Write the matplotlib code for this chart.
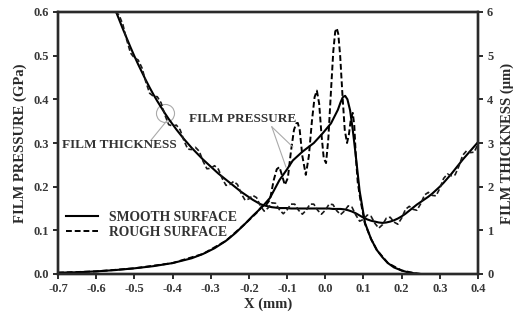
import matplotlib

matplotlib.use("Agg")
import matplotlib.pyplot as plt  # noqa: E402

plt.rcParams.update({
    "font.family": "Liberation Serif",
    "font.weight": "bold",
    "font.size": 9,
    "axes.unicode_minus": False,
})

# film pressure (GPa), smooth surface
p_smooth_x = [-0.70, -0.65, -0.60, -0.55, -0.50, -0.45, -0.40, -0.35, -0.32, -0.29,
              -0.26, -0.235, -0.21, -0.19, -0.166, -0.145, -0.12, -0.10, -0.085, -0.06,
              -0.03, -0.006, 0.015, 0.033, 0.040, 0.046, 0.052, 0.058, 0.065, 0.072,
              0.080, 0.090, 0.104, 0.12, 0.135, 0.15, 0.164, 0.18, 0.20, 0.22, 0.24, 0.25]
p_smooth = [0.003, 0.004, 0.006, 0.009, 0.013, 0.018, 0.025, 0.036, 0.046, 0.059,
            0.076, 0.094, 0.115, 0.133, 0.153, 0.174, 0.215, 0.240, 0.260, 0.280,
            0.300, 0.323, 0.345, 0.376, 0.393, 0.405, 0.408, 0.400, 0.375, 0.330,
            0.270, 0.190, 0.117, 0.080, 0.055, 0.038, 0.025, 0.015, 0.008, 0.003, 0.001, 0.0]

# film pressure (GPa), rough surface
p_rough_x = [-0.70, -0.60, -0.50, -0.40, -0.32, -0.26, -0.21, -0.18, -0.166, -0.155,
             -0.145, -0.135, -0.127, -0.12, -0.113, -0.106, -0.098, -0.09, -0.082, -0.076,
             -0.072, -0.067, -0.06, -0.051, -0.043, -0.035, -0.028, -0.022, -0.016, -0.01,
             -0.004, 0.002, 0.008, 0.015, 0.021, 0.026, 0.030, 0.034, 0.039, 0.045,
             0.051, 0.057, 0.062, 0.067, 0.072, 0.076, 0.080, 0.085, 0.092, 0.104,
             0.12, 0.135, 0.164, 0.20, 0.24, 0.25]
p_rough = [0.003, 0.006, 0.013, 0.025, 0.046, 0.076, 0.115, 0.140, 0.155, 0.158,
           0.170, 0.215, 0.240, 0.245, 0.225, 0.204, 0.220, 0.280, 0.330, 0.345,
           0.346, 0.330, 0.270, 0.227, 0.270, 0.350, 0.405, 0.420, 0.390, 0.320,
           0.265, 0.254, 0.310, 0.420, 0.510, 0.555, 0.563, 0.550, 0.500, 0.410,
           0.330, 0.300, 0.320, 0.355, 0.369, 0.340, 0.270, 0.210, 0.170, 0.115,
           0.080, 0.055, 0.025, 0.008, 0.001, 0.0]

# film thickness (um) at x = -0.55 ... 0.40, step 0.01
h_x = [round(-0.55 + 0.01 * i, 2) for i in range(96)]
h_smooth = [6.05, 5.83, 5.61, 5.40, 5.19, 4.99, 4.80, 4.62, 4.44, 4.27,
            4.11, 3.96, 3.82, 3.68, 3.55, 3.43, 3.31, 3.20, 3.09, 2.99,
            2.89, 2.80, 2.71, 2.62, 2.54, 2.46, 2.38, 2.30, 2.23, 2.16,
            2.09, 2.02, 1.95, 1.88, 1.82, 1.76, 1.70, 1.65, 1.60, 1.57,
            1.55, 1.53, 1.52, 1.51, 1.51, 1.51, 1.50, 1.50, 1.50, 1.50,
            1.50, 1.50, 1.50, 1.50, 1.50, 1.50, 1.50, 1.49, 1.49, 1.49,
            1.48, 1.46, 1.43, 1.39, 1.34, 1.29, 1.25, 1.22, 1.20, 1.18,
            1.17, 1.18, 1.20, 1.23, 1.27, 1.32, 1.38, 1.45, 1.52, 1.59,
            1.65, 1.71, 1.77, 1.84, 1.92, 2.00, 2.09, 2.19, 2.29, 2.40,
            2.51, 2.62, 2.72, 2.82, 2.92, 3.02]
h_rough = [6.01, 5.93, 5.71, 5.36, 5.06, 4.95, 4.90, 4.72, 4.40, 4.14,
           4.07, 4.06, 3.92, 3.64, 3.42, 3.39, 3.41, 3.30, 3.05, 2.86,
           2.85, 2.90, 2.81, 2.58, 2.41, 2.42, 2.48, 2.40, 2.19, 2.03,
           2.05, 2.12, 2.05, 1.84, 1.69, 1.72, 1.80, 1.75, 1.56, 1.44,
           1.51, 1.63, 1.62, 1.47, 1.38, 1.47, 1.60, 1.60, 1.46, 1.37,
           1.46, 1.60, 1.60, 1.46, 1.37, 1.46, 1.60, 1.59, 1.45, 1.36,
           1.44, 1.56, 1.53, 1.35, 1.21, 1.25, 1.35, 1.32, 1.16, 1.05,
           1.13, 1.28, 1.30, 1.19, 1.14, 1.28, 1.48, 1.55, 1.48, 1.46,
           1.61, 1.81, 1.87, 1.80, 1.79, 1.96, 2.19, 2.29, 2.25, 2.27,
           2.47, 2.72, 2.82, 2.78, 2.79, 2.98]

x_ticks = [-0.7, -0.6, -0.5, -0.4, -0.3, -0.2, -0.1, 0.0, 0.1, 0.2, 0.3, 0.4]
p_ticks = [0.0, 0.1, 0.2, 0.3, 0.4, 0.5, 0.6]
h_ticks = [0, 1, 2, 3, 4, 5, 6]

DASH = (0, (3.0, 1.5))
INK = "#2a2a2a"

fig = plt.figure(figsize=(5.19, 3.22), dpi=100)
ax = fig.add_axes([58 / 519, 1 - 274 / 322, 420 / 519, 262 / 322])
ax2 = ax.twinx()

l_smooth, = ax.plot(p_smooth_x, p_smooth, color="black", lw=1.5)
l_rough, = ax.plot(p_rough_x, p_rough, color="black", lw=1.4, linestyle=DASH)
ax2.plot(h_x, h_smooth, color="black", lw=1.5)
ax2.plot(h_x, h_rough, color="#1a1a1a", lw=1.2, linestyle=DASH)

ax.set_xlim(-0.7, 0.4)
ax.set_ylim(0, 0.6)
ax2.set_ylim(0, 6)
ax.set_xticks(x_ticks)
ax.set_xticklabels([f"{v:.1f}" for v in x_ticks], fontweight="bold")
ax.set_yticks(p_ticks)
ax.set_yticklabels([f"{v:.1f}" for v in p_ticks], fontweight="bold")
ax2.set_yticks(h_ticks)
ax2.set_yticklabels([str(v) for v in h_ticks], fontweight="bold")

for a in (ax, ax2):
    a.tick_params(direction="out", length=3.5, width=1.4, color=INK,
                  labelsize=9, labelcolor="#383838", pad=3)
    for s in a.spines.values():
        s.set_linewidth(1.7)
        s.set_color(INK)

ax.set_xlabel("X (mm)", fontsize=10.5, fontweight="bold", color=INK, labelpad=2)
ax.set_ylabel("FILM PRESSURE (GPa)", fontsize=10.5, fontweight="bold",
              color=INK, labelpad=5)
ax2.set_ylabel("FILM THICKNESS (\u00b5m)", fontsize=10.5, fontweight="bold",
               color=INK, labelpad=5)

# annotations
ax.text(-0.689, 0.295, "FILM THICKNESS", fontsize=9.5, fontweight="bold",
        color="#333333", ha="left", va="center")
ax.plot([-0.456, -0.414], [0.307, 0.352], color="#aaaaaa", lw=0.8)
ax.plot([-0.42], [0.369], marker="o", ms=13, mfc="none", mec="#aaaaaa", mew=0.8)

ax.text(-0.357, 0.355, "FILM PRESSURE", fontsize=9.5, fontweight="bold",
        color="#333333", ha="left", va="center")
ax.plot([-0.140, -0.085], [0.337, 0.291], color="#aaaaaa", lw=0.8)
ax.plot([-0.140, -0.103], [0.337, 0.245], color="#aaaaaa", lw=0.8)

ax.legend([l_smooth, l_rough], ["SMOOTH SURFACE", "ROUGH SURFACE"],
          loc="center left", bbox_to_anchor=(0.018, 0.187), frameon=False,
          prop={"size": 9.8, "weight": "bold"}, handlelength=2.4,
          handletextpad=0.8, labelspacing=0.12, borderpad=0, borderaxespad=0,
          labelcolor="#333333")

fig.savefig("out.png", dpi=100)
